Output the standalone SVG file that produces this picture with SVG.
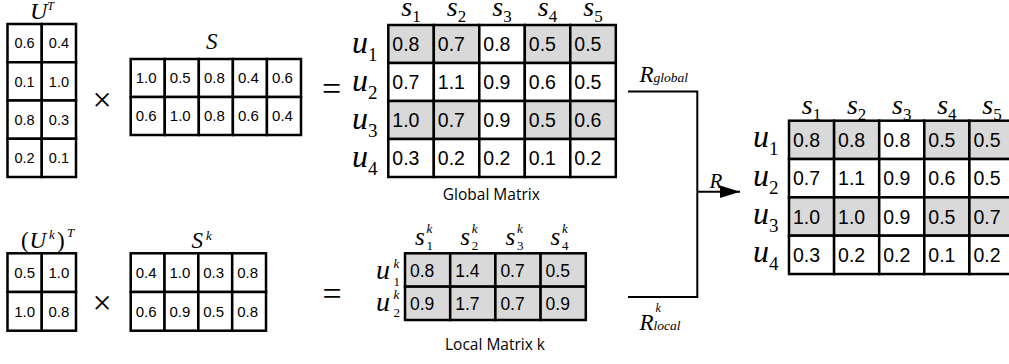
<svg xmlns="http://www.w3.org/2000/svg" width="1009" height="364" viewBox="0 0 1009 364">
<style>
.c{fill:#fff;stroke:#000;stroke-width:2.5}
.g{fill:#d9d9d9;stroke:#000;stroke-width:2.5}
.n{font-family:"Liberation Sans",Arial,sans-serif;fill:#000}
.m{font-family:"Liberation Serif","Times New Roman",serif;font-style:italic;fill:#000}
.u{font-style:normal}
.cap{font-family:"Open Sans","Liberation Sans",sans-serif;font-size:15.5px;fill:#000}
.op{font-family:"Liberation Serif","Times New Roman",serif;fill:#000}
.x{font-family:"Liberation Serif","Times New Roman",serif;fill:#000}
.ln{fill:none;stroke:#000;stroke-width:2}
</style>
<defs>
<marker id="ah" markerUnits="userSpaceOnUse" markerWidth="20" markerHeight="13" refX="20" refY="6.3" orient="auto"><polygon points="0,0 20,6.3 0,12.6" fill="#000"/></marker>
</defs>
<rect width="1009" height="364" fill="#fff"/>

<g id="UT">
<text class="m" x="30" y="19" font-size="24">U<tspan font-size="12" dy="-9">T</tspan></text>
<rect class="c" x="7.5" y="24" width="34.25" height="38.25"/><rect class="c" x="41.75" y="24" width="34.25" height="38.25"/>
<rect class="c" x="7.5" y="62.25" width="34.25" height="38.25"/><rect class="c" x="41.75" y="62.25" width="34.25" height="38.25"/>
<rect class="c" x="7.5" y="100.5" width="34.25" height="38.25"/><rect class="c" x="41.75" y="100.5" width="34.25" height="38.25"/>
<rect class="c" x="7.5" y="138.75" width="34.25" height="38.25"/><rect class="c" x="41.75" y="138.75" width="34.25" height="38.25"/>
<g class="n" font-size="14.5" text-anchor="middle">
<text x="24.6" y="48.3">0.6</text><text x="58.9" y="48.3">0.4</text>
<text x="24.6" y="86.6">0.1</text><text x="58.9" y="86.6">1.0</text>
<text x="24.6" y="124.8">0.8</text><text x="58.9" y="124.8">0.3</text>
<text x="24.6" y="163.1">0.2</text><text x="58.9" y="163.1">0.1</text>
</g>
</g>

<g id="times1"><text class="x" x="102" y="111" font-size="34" text-anchor="middle">×</text></g>

<g id="S">
<text class="m" x="206" y="49" font-size="23">S</text>
<rect class="c" x="130.7" y="59" width="34.06" height="38"/><rect class="c" x="164.76" y="59" width="34.06" height="38"/><rect class="c" x="198.82" y="59" width="34.06" height="38"/><rect class="c" x="232.88" y="59" width="34.06" height="38"/><rect class="c" x="266.94" y="59" width="34.06" height="38"/>
<rect class="c" x="130.7" y="97" width="34.06" height="38"/><rect class="c" x="164.76" y="97" width="34.06" height="38"/><rect class="c" x="198.82" y="97" width="34.06" height="38"/><rect class="c" x="232.88" y="97" width="34.06" height="38"/><rect class="c" x="266.94" y="97" width="34.06" height="38"/>
<g class="n" font-size="15" text-anchor="middle">
<text x="146.2" y="83.3">1.0</text><text x="180.3" y="83.3">0.5</text><text x="214.4" y="83.3">0.8</text><text x="248.4" y="83.3">0.4</text><text x="282.5" y="83.3">0.6</text>
<text x="146.2" y="121.3">0.6</text><text x="180.3" y="121.3">1.0</text><text x="214.4" y="121.3">0.8</text><text x="248.4" y="121.3">0.6</text><text x="282.5" y="121.3">0.4</text>
</g>
</g>

<g id="eq1"><text class="op" x="331.7" y="100" font-size="34" text-anchor="middle">=</text></g>

<g id="global">
<g class="m" font-size="28" text-anchor="middle">
<text x="411.05" y="16">s<tspan class="u" font-size="17" dy="6">1</tspan></text>
<text x="456.55" y="16">s<tspan class="u" font-size="17" dy="6">2</tspan></text>
<text x="502.05" y="16">s<tspan class="u" font-size="17" dy="6">3</tspan></text>
<text x="547.55" y="16">s<tspan class="u" font-size="17" dy="6">4</tspan></text>
<text x="593.05" y="16">s<tspan class="u" font-size="17" dy="6">5</tspan></text>
</g>
<g class="m" font-size="32">
<text x="352" y="53">u<tspan class="u" font-size="19" dy="8">1</tspan></text>
<text x="352" y="91">u<tspan class="u" font-size="19" dy="8">2</tspan></text>
<text x="352" y="129">u<tspan class="u" font-size="19" dy="8">3</tspan></text>
<text x="352" y="167">u<tspan class="u" font-size="19" dy="8">4</tspan></text>
</g>
<rect class="g" x="388.3" y="25" width="45.5" height="38"/><rect class="g" x="433.8" y="25" width="45.5" height="38"/><rect class="c" x="479.3" y="25" width="45.5" height="38"/><rect class="g" x="524.8" y="25" width="45.5" height="38"/><rect class="g" x="570.3" y="25" width="45.5" height="38"/>
<rect class="c" x="388.3" y="63" width="45.5" height="38"/><rect class="c" x="433.8" y="63" width="45.5" height="38"/><rect class="c" x="479.3" y="63" width="45.5" height="38"/><rect class="c" x="524.8" y="63" width="45.5" height="38"/><rect class="c" x="570.3" y="63" width="45.5" height="38"/>
<rect class="g" x="388.3" y="101" width="45.5" height="38"/><rect class="g" x="433.8" y="101" width="45.5" height="38"/><rect class="c" x="479.3" y="101" width="45.5" height="38"/><rect class="g" x="524.8" y="101" width="45.5" height="38"/><rect class="g" x="570.3" y="101" width="45.5" height="38"/>
<rect class="c" x="388.3" y="139" width="45.5" height="38"/><rect class="c" x="433.8" y="139" width="45.5" height="38"/><rect class="c" x="479.3" y="139" width="45.5" height="38"/><rect class="c" x="524.8" y="139" width="45.5" height="38"/><rect class="c" x="570.3" y="139" width="45.5" height="38"/>
<g class="n" font-size="19.5">
<text x="392.3" y="51">0.8</text><text x="437.8" y="51">0.7</text><text x="483.3" y="51">0.8</text><text x="528.8" y="51">0.5</text><text x="574.3" y="51">0.5</text>
<text x="392.3" y="89">0.7</text><text x="437.8" y="89">1.1</text><text x="483.3" y="89">0.9</text><text x="528.8" y="89">0.6</text><text x="574.3" y="89">0.5</text>
<text x="392.3" y="127">1.0</text><text x="437.8" y="127">0.7</text><text x="483.3" y="127">0.9</text><text x="528.8" y="127">0.5</text><text x="574.3" y="127">0.6</text>
<text x="392.3" y="165">0.3</text><text x="437.8" y="165">0.2</text><text x="483.3" y="165">0.2</text><text x="528.8" y="165">0.1</text><text x="574.3" y="165">0.2</text>
</g>
<text class="cap" x="491.3" y="200" text-anchor="middle">Global Matrix</text>
</g>

<g id="UkT">
<text class="m" y="248" font-size="23"><tspan class="u" x="21">(</tspan><tspan x="29.5">U</tspan><tspan x="49" dy="-9" font-size="13">k</tspan><tspan class="u" x="57" dy="9">)</tspan><tspan x="67" dy="-11" font-size="13">T</tspan></text>
<rect class="c" x="7.5" y="253.3" width="34.25" height="38.7"/><rect class="c" x="41.75" y="253.3" width="34.25" height="38.7"/>
<rect class="c" x="7.5" y="292" width="34.25" height="38.7"/><rect class="c" x="41.75" y="292" width="34.25" height="38.7"/>
<g class="n" font-size="15" text-anchor="middle">
<text x="24.6" y="278">0.5</text><text x="58.9" y="278">1.0</text>
<text x="24.6" y="316.7">1.0</text><text x="58.9" y="316.7">0.8</text>
</g>
</g>

<g id="times2"><text class="x" x="102" y="313.5" font-size="34" text-anchor="middle">×</text></g>

<g id="Sk">
<text class="m" x="191.5" y="248" font-size="23">S<tspan font-size="13" x="206" dy="-8">k</tspan></text>
<rect class="c" x="130.7" y="253.3" width="33.83" height="38.7"/><rect class="c" x="164.53" y="253.3" width="33.83" height="38.7"/><rect class="c" x="198.36" y="253.3" width="33.83" height="38.7"/><rect class="c" x="232.19" y="253.3" width="33.83" height="38.7"/>
<rect class="c" x="130.7" y="292" width="33.83" height="38.7"/><rect class="c" x="164.53" y="292" width="33.83" height="38.7"/><rect class="c" x="198.36" y="292" width="33.83" height="38.7"/><rect class="c" x="232.19" y="292" width="33.83" height="38.7"/>
<g class="n" font-size="15" text-anchor="middle">
<text x="146.1" y="278">0.4</text><text x="179.9" y="278">1.0</text><text x="213.7" y="278">0.3</text><text x="247.6" y="278">0.8</text>
<text x="146.1" y="316.7">0.6</text><text x="179.9" y="316.7">0.9</text><text x="213.7" y="316.7">0.5</text><text x="247.6" y="316.7">0.8</text>
</g>
</g>

<g id="eq2"><text class="op" x="332" y="305" font-size="34" text-anchor="middle">=</text></g>

<g id="local">
<g class="m">
<text x="415" y="245" font-size="25">s</text><text x="426.5" y="233" font-size="13">k</text><text class="u" x="426.5" y="250" font-size="13">1</text>
<text x="460.2" y="245" font-size="25">s</text><text x="471.7" y="233" font-size="13">k</text><text class="u" x="471.7" y="250" font-size="13">2</text>
<text x="505.4" y="245" font-size="25">s</text><text x="516.9" y="233" font-size="13">k</text><text class="u" x="516.9" y="250" font-size="13">3</text>
<text x="550.6" y="245" font-size="25">s</text><text x="562.1" y="233" font-size="13">k</text><text class="u" x="562.1" y="250" font-size="13">4</text>
<text x="376" y="279" font-size="28">u</text><text x="393.5" y="268" font-size="13">k</text><text class="u" x="393.5" y="285.5" font-size="13">1</text>
<text x="376" y="311" font-size="28">u</text><text x="393.5" y="299" font-size="13">k</text><text class="u" x="393.5" y="317" font-size="13">2</text>
</g>
<rect class="g" x="405" y="253.3" width="45.2" height="33.35"/><rect class="g" x="450.2" y="253.3" width="45.2" height="33.35"/><rect class="g" x="495.4" y="253.3" width="45.2" height="33.35"/><rect class="g" x="540.6" y="253.3" width="45.2" height="33.35"/>
<rect class="g" x="405" y="286.65" width="45.2" height="33.35"/><rect class="g" x="450.2" y="286.65" width="45.2" height="33.35"/><rect class="g" x="495.4" y="286.65" width="45.2" height="33.35"/><rect class="g" x="540.6" y="286.65" width="45.2" height="33.35"/>
<g class="n" font-size="17.5">
<text x="410" y="276.5">0.8</text><text x="455.2" y="276.5">1.4</text><text x="500.4" y="276.5">0.7</text><text x="545.6" y="276.5">0.5</text>
<text x="410" y="309.8">0.9</text><text x="455.2" y="309.8">1.7</text><text x="500.4" y="309.8">0.7</text><text x="545.6" y="309.8">0.9</text>
</g>
<text class="cap" x="495" y="350" text-anchor="middle">Local Matrix k</text>
</g>

<g id="connectors">
<path class="ln" d="M628 91.5 H697.3 V297 H628"/>
<path class="ln" d="M697.3 191.7 H740" marker-end="url(#ah)"/>
<text class="m" x="639.5" y="81.7" font-size="23">R<tspan font-size="13.5">global</tspan></text>
<text class="m" x="709.5" y="188.3" font-size="21">R</text>
<text class="m" x="639.5" y="330" font-size="23">R<tspan font-size="13.5">local</tspan></text>
<text class="m" x="655.5" y="312" font-size="12">k</text>
</g>

<g id="result">
<g class="m" font-size="28" text-anchor="middle">
<text x="811.55" y="113.5">s<tspan class="u" font-size="17" dy="6">1</tspan></text>
<text x="856.65" y="113.5">s<tspan class="u" font-size="17" dy="6">2</tspan></text>
<text x="901.75" y="113.5">s<tspan class="u" font-size="17" dy="6">3</tspan></text>
<text x="946.85" y="113.5">s<tspan class="u" font-size="17" dy="6">4</tspan></text>
<text x="991.95" y="113.5">s<tspan class="u" font-size="17" dy="6">5</tspan></text>
</g>
<g class="m" font-size="32">
<text x="753" y="147.4">u<tspan class="u" font-size="19" dy="8">1</tspan></text>
<text x="753" y="185.7">u<tspan class="u" font-size="19" dy="8">2</tspan></text>
<text x="753" y="224">u<tspan class="u" font-size="19" dy="8">3</tspan></text>
<text x="753" y="262.3">u<tspan class="u" font-size="19" dy="8">4</tspan></text>
</g>
<rect class="g" x="789" y="120.7" width="45.1" height="38.33"/><rect class="g" x="834.1" y="120.7" width="45.1" height="38.33"/><rect class="c" x="879.2" y="120.7" width="45.1" height="38.33"/><rect class="g" x="924.3" y="120.7" width="45.1" height="38.33"/><rect class="g" x="969.4" y="120.7" width="45.1" height="38.33"/>
<rect class="c" x="789" y="159.03" width="45.1" height="38.33"/><rect class="c" x="834.1" y="159.03" width="45.1" height="38.33"/><rect class="c" x="879.2" y="159.03" width="45.1" height="38.33"/><rect class="c" x="924.3" y="159.03" width="45.1" height="38.33"/><rect class="c" x="969.4" y="159.03" width="45.1" height="38.33"/>
<rect class="g" x="789" y="197.36" width="45.1" height="38.33"/><rect class="g" x="834.1" y="197.36" width="45.1" height="38.33"/><rect class="c" x="879.2" y="197.36" width="45.1" height="38.33"/><rect class="g" x="924.3" y="197.36" width="45.1" height="38.33"/><rect class="g" x="969.4" y="197.36" width="45.1" height="38.33"/>
<rect class="c" x="789" y="235.69" width="45.1" height="38.33"/><rect class="c" x="834.1" y="235.69" width="45.1" height="38.33"/><rect class="c" x="879.2" y="235.69" width="45.1" height="38.33"/><rect class="c" x="924.3" y="235.69" width="45.1" height="38.33"/><rect class="c" x="969.4" y="235.69" width="45.1" height="38.33"/>
<g class="n" font-size="19.5">
<text x="793" y="146.9">0.8</text><text x="838.1" y="146.9">0.8</text><text x="883.2" y="146.9">0.8</text><text x="928.3" y="146.9">0.5</text><text x="973.4" y="146.9">0.5</text>
<text x="793" y="185.2">0.7</text><text x="838.1" y="185.2">1.1</text><text x="883.2" y="185.2">0.9</text><text x="928.3" y="185.2">0.6</text><text x="973.4" y="185.2">0.5</text>
<text x="793" y="223.5">1.0</text><text x="838.1" y="223.5">1.0</text><text x="883.2" y="223.5">0.9</text><text x="928.3" y="223.5">0.5</text><text x="973.4" y="223.5">0.7</text>
<text x="793" y="261.8">0.3</text><text x="838.1" y="261.8">0.2</text><text x="883.2" y="261.8">0.2</text><text x="928.3" y="261.8">0.1</text><text x="973.4" y="261.8">0.2</text>
</g>
</g>
</svg>
